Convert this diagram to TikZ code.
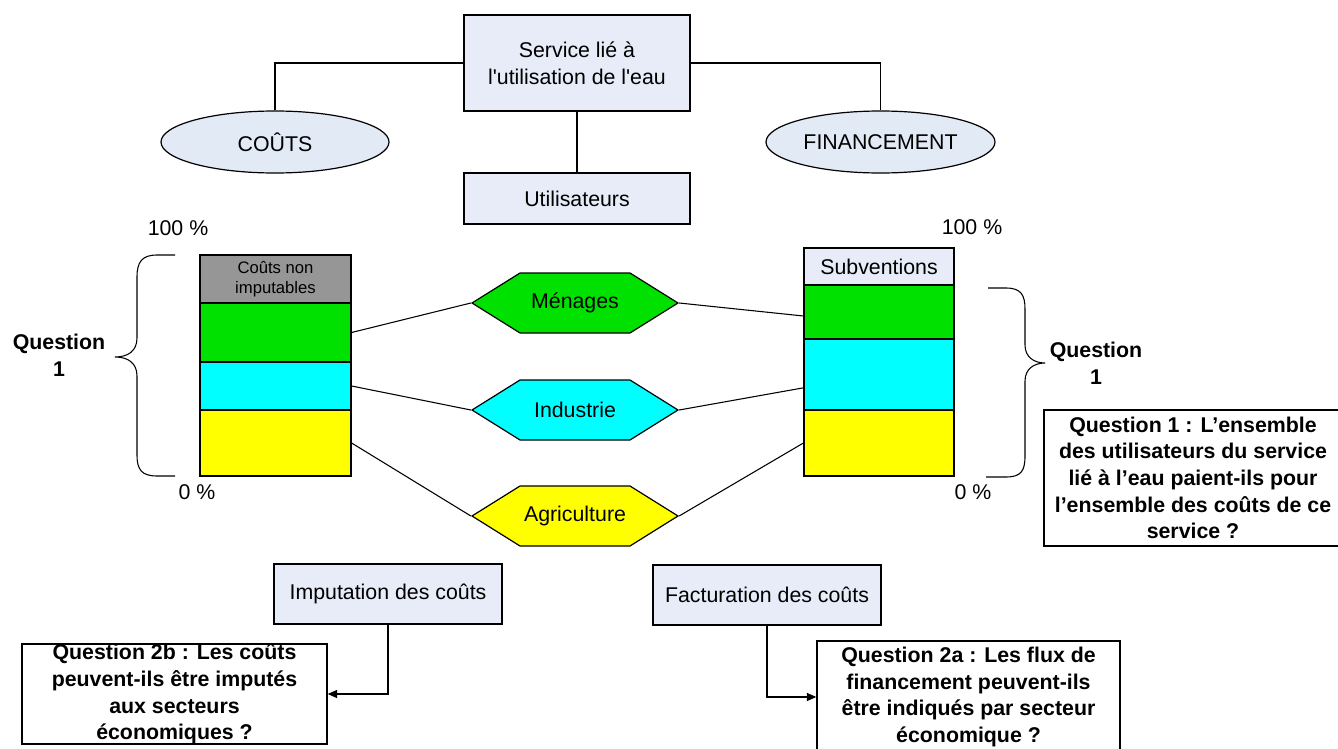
\documentclass[tikz,border=0pt]{standalone}
\usepackage{fontspec}
\setmainfont{Liberation Sans}
\usetikzlibrary{shapes.geometric,shapes.symbols,arrows.meta}
\definecolor{boxblue}{RGB}{231,236,248}
\definecolor{ellblue}{RGB}{226,234,246}
\definecolor{hgreen}{RGB}{0,225,0}
\definecolor{hcyan}{RGB}{0,255,255}
\definecolor{hyellow}{RGB}{255,255,0}
\definecolor{hgray}{RGB}{150,150,150}
\begin{document}
\begin{tikzpicture}[x=0.75pt,y=-0.75pt,
  bluebox/.style={draw, line width=0.9pt, fill=boxblue, inner sep=0pt, align=center, font=\fontsize{16}{20}\selectfont},
  ellbox/.style={ellipse, draw, line width=0.9pt, fill=ellblue, inner sep=0pt, font=\fontsize{16}{20}\selectfont},
  seg/.style={draw, line width=0.9pt, inner sep=0pt, minimum width=113.25pt, align=center},
  hexa/.style={signal, signal to=west and east, signal pointer angle=64, draw, line width=0.9pt, inner sep=0pt, minimum width=154.5pt, minimum height=45pt, font=\fontsize{16}{20}\selectfont},
  qbox/.style={draw, line width=1.1pt, fill=white, inner sep=0pt, align=center, font=\bfseries\fontsize{16}{20}\selectfont},
  lbl/.style={inner sep=0pt, font=\fontsize{16}{20}\selectfont},
  qlbl/.style={inner sep=0pt, align=center, font=\bfseries\fontsize{16}{20}\selectfont},
  conn/.style={line width=0.8pt},
  arr/.style={line width=0.8pt, -{Triangle[length=7pt,width=6pt]}},
  bracepath/.style={line width=0.8pt}]
\useasboundingbox (0,0) rectangle (1338,749);
\fill[white] (0,0) rectangle (1338,749);

% top
\node[bluebox, minimum width=169.5pt, minimum height=72pt] (serv) at (577,63) {Service lié à\\l\textquotesingle utilisation de l\textquotesingle eau};
\node[bluebox, minimum width=169.5pt, minimum height=38.25pt] (util) at (577,198.5) {Utilisateurs};
\node[ellbox, minimum width=171pt, minimum height=46.5pt] (couts) at (275,142) {COÛTS};
\node[ellbox, minimum width=171.75pt, minimum height=46.5pt] (fin) at (880.5,142) {FINANCEMENT};
\draw[conn] (serv.west) -| (couts.north);
\draw[conn] (serv.east) -| (fin.north);
\draw[conn] (serv.south) -- (util.north);

% percentages
\node[lbl] (p100l) at (178,228) {100 \%};
\node[lbl] (p100r) at (972,227) {100 \%};
\node[lbl] (p0l) at (197,492) {0 \%};
\node[lbl] (p0r) at (973,492) {0 \%};

% left bar
\node[seg, fill=hgray, minimum height=36pt, font=\fontsize{12.5}{15}\selectfont] (lgray) at (275.5,279) {Coûts non\\imputables};
\node[seg, fill=hgreen, minimum height=44.25pt] (lgreen) at (275.5,332.5) {};
\node[seg, fill=hcyan, minimum height=36pt] (lcyan) at (275.5,386) {};
\node[seg, fill=hyellow, minimum height=49.5pt] (lyel) at (275.5,443) {};

% right bar
\node[seg, fill=boxblue, minimum width=112.5pt, minimum height=27.75pt, font=\fontsize{16}{20}\selectfont] (rsub) at (879,266.5) {Subventions};
\node[seg, fill=hgreen, minimum width=112.5pt, minimum height=40.5pt] (rgreen) at (879,312) {};
\node[seg, fill=hcyan, minimum width=112.5pt, minimum height=53.25pt] (rcyan) at (879,374.5) {};
\node[seg, fill=hyellow, minimum width=112.5pt, minimum height=49.5pt] (ryel) at (879,443) {};

% hexagons
\node[hexa, fill=hgreen] (men) at (575,303) {Ménages};
\node[hexa, fill=hcyan] (ind) at (575,410) {Industrie};
\node[hexa, fill=hyellow] (agr) at (575,516) {Agriculture};
\draw[conn] (lgreen.east) -- (men.west);
\draw[conn] (lcyan.east) -- (ind.west);
\draw[conn] (lyel.east) -- (agr.west);
\draw[conn] (men.east) -- ([yshift=-3pt]rgreen.west);
\draw[conn] (ind.east) -- ([yshift=-10pt]rcyan.west);
\draw[conn] (agr.east) -- (ryel.west);

% braces
\draw[bracepath] (175,255) -- (157,255) .. controls (142,255) and (137,262) .. (137,277) -- (137,338) .. controls (137,351) and (128,357) .. (115,357) .. controls (128,357) and (137,363) .. (137,376) -- (137,455) .. controls (137,470) and (142,476) .. (157,476) -- (175,476);
\draw[bracepath] (988,288) -- (1006,288) .. controls (1021,288) and (1025,295) .. (1025,309) -- (1025,345) .. controls (1025,357) and (1034,363) .. (1045,363) .. controls (1034,363) and (1025,369) .. (1025,381) -- (1025,456) .. controls (1025,471) and (1021,477) .. (1006,477) -- (986,477);
\node[qlbl] (ql) at (59,355) {Question\\1};
\node[qlbl] (qr) at (1096,363) {Question\\1};

% question 1 box
\node[qbox, minimum width=223.5pt, minimum height=102pt] (q1) at (1193,478) {Question 1 : L’ensemble\\des utilisateurs du service\\lié à l’eau paient-ils pour\\l’ensemble des coûts de ce\\service ?};

% bottom
\node[bluebox, minimum width=171pt, minimum height=45pt] (imp) at (388,594) {Imputation des coûts};
\node[bluebox, minimum width=171pt, minimum height=45pt] (fac) at (767,595) {Facturation des coûts};
\node[qbox, minimum width=228.75pt, minimum height=75pt] (q2b) at (174.5,694) {Question 2b : Les coûts\\peuvent-ils être imputés\\aux secteurs\\économiques ?};
\node[qbox, minimum width=227.25pt, minimum height=84pt] (q2a) at (968.5,697) {Question 2a : Les flux de\\financement peuvent-ils\\être indiqués par secteur\\économique ?};
\draw[arr] (imp.south) |- (q2b.east);
\draw[arr] (fac.south) |- (q2a.west);
\end{tikzpicture}
\end{document}
